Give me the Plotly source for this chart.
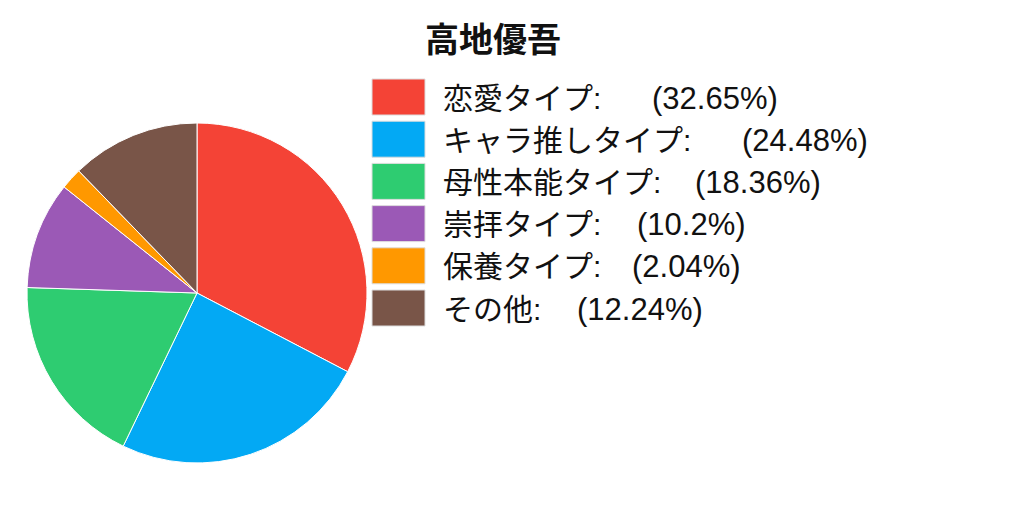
import plotly.graph_objects as go

# data
labels = ["恋愛タイプ", "キャラ推しタイプ", "母性本能タイプ", "崇拝タイプ", "保養タイプ", "その他"]
percents = [32.65, 24.48, 18.36, 10.2, 2.04, 12.24]
colors = ["#F44336", "#03A9F4", "#2ECC71", "#9B59B6", "#FF9800", "#795548"]
title_text = "高地優吾"

W, H = 1024, 512
OFF = 8  # page body margin offset
FONT = "Liberation Sans, Noto Sans CJK JP"


def px(x):
    return (x - OFF) / W


def py(y):
    return (H - (y - OFF)) / H


fig = go.Figure()

fig.add_trace(go.Pie(
    labels=labels,
    values=percents,
    marker=dict(colors=colors, line=dict(color="white", width=1)),
    sort=False,
    direction="clockwise",
    rotation=0,
    textinfo="none",
    hoverinfo="label+percent",
    showlegend=False,
    domain=dict(x=[px(27), px(367)], y=[py(463), py(123)]),
))

# custom legend (big swatches like the reference)
row_y0 = 97      # pixel centre of first row
row_step = 42.2  # pixel spacing between rows
pct_x = [650, 740, 693, 635, 630, 575]  # pixel x of the "(xx%)" part

for i, (lab, pct, col) in enumerate(zip(labels, percents, colors)):
    yc = row_y0 + row_step * i
    fig.add_shape(
        type="rect", xref="paper", yref="paper",
        x0=px(372), x1=px(425),
        y0=py(yc + 18), y1=py(yc - 18),
        fillcolor=col, line=dict(color="#dddddd", width=1),
    )
    fig.add_annotation(
        xref="paper", yref="paper", x=px(441), y=py(yc + 1),
        text=lab + ":", showarrow=False, xanchor="left", yanchor="middle",
        font=dict(family=FONT, size=30, color="#111111"),
    )
    fig.add_annotation(
        xref="paper", yref="paper", x=px(pct_x[i]), y=py(yc + 1),
        text="(" + f"{pct:g}" + "%)", showarrow=False, xanchor="left", yanchor="middle",
        font=dict(family=FONT, size=31, color="#111111"),
    )

fig.add_annotation(
    xref="paper", yref="paper", x=px(493), y=py(37),
    text="<b>" + title_text + "</b>", showarrow=False,
    xanchor="center", yanchor="middle",
    font=dict(family="Noto Sans CJK JP", size=34, color="#111111"),
)

fig.update_layout(
    width=W, height=H,
    margin=dict(l=0, r=0, t=0, b=0),
    paper_bgcolor="white",
    plot_bgcolor="white",
    showlegend=False,
)

fig.write_html("out.html")
